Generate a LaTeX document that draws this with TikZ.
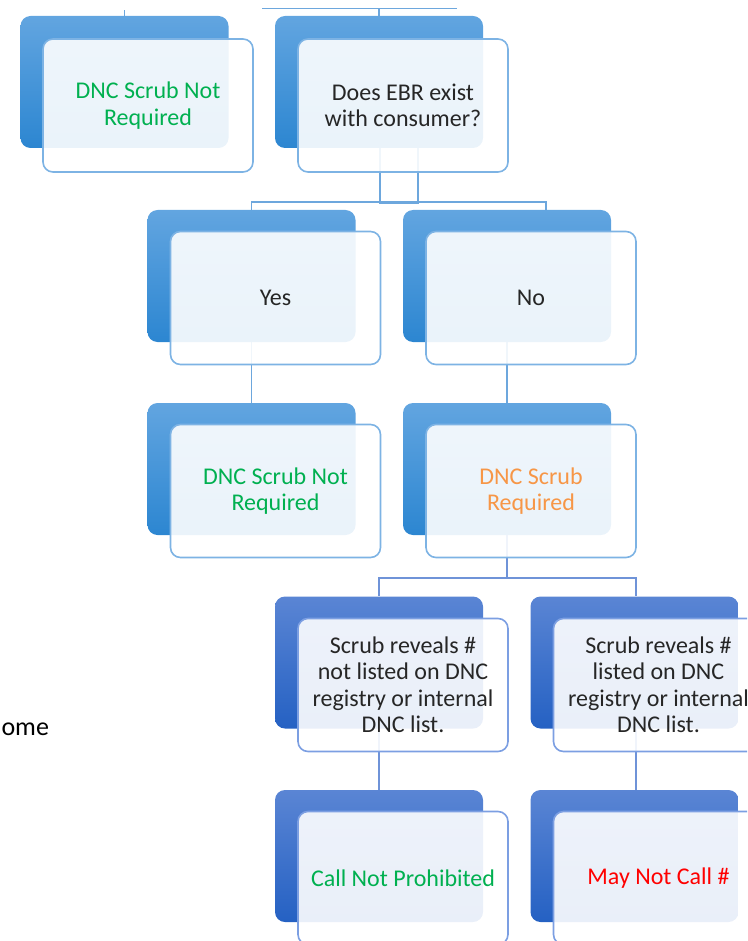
\documentclass[tikz,border=0pt]{standalone}
\usepackage{fontspec}
\setmainfont{Carlito}
\usepackage{xcolor}
\usepackage{tikz}
\usetikzlibrary{positioning,backgrounds}

\definecolor{topA}{HTML}{62A5E0}
\definecolor{botA}{HTML}{2C86D1}
\definecolor{topB}{HTML}{5A85D4}
\definecolor{botB}{HTML}{2561C3}
\definecolor{edgeA}{HTML}{7DB3E4}
\definecolor{edgeB}{HTML}{7C9FE2}
\definecolor{lineA}{HTML}{6DA7DD}
\definecolor{lineB}{HTML}{6F93D8}
\definecolor{txtgray}{HTML}{262626}
\definecolor{okgreen}{HTML}{00B050}
\definecolor{warnorange}{HTML}{F79646}
\definecolor{stopred}{HTML}{FF0000}

\begin{document}
\begin{tikzpicture}[
  x=1pt, y=-1pt,
  font=\fontsize{24}{26.5}\selectfont,
  back/.style={rounded corners=10pt, minimum width=208pt, minimum height=132pt, inner sep=0pt, top color=topA, bottom color=botA},
  backdk/.style={back, top color=topB, bottom color=botB},
  front/.style={draw=edgeA, line width=1.6pt, rounded corners=10pt, fill=white, fill opacity=0.9, text opacity=1, align=center, minimum width=210pt, minimum height=133pt, inner sep=2pt, text=txtgray},
  frontdk/.style={front, draw=edgeB},
  link/.style={draw=lineA, line width=1.8pt},
  linkdk/.style={draw=lineB, line width=1.8pt}
]
\clip (0,0) rectangle (747,941);

\node[back] (b1) at (124.5,82) {};
\node[front,text=okgreen] (n1) at (148,105.5) {DNC Scrub Not\\Required};
\node[back] (b2) at (379,82) {};
\node[front] (n2) at (403,105.5) {Does EBR exist\\with consumer?};

\node[back] (b3) at (251.5,276) {};
\node[front] (n3) at (275.5,298) {Yes};
\node[back] (b4) at (507,276) {};
\node[front] (n4) at (531,298) {No};

\node[back] (b5) at (251.5,469) {};
\node[front,text=okgreen] (n5) at (275.5,491) {DNC Scrub Not\\Required};
\node[back] (b6) at (507,469) {};
\node[front,text=warnorange] (n6) at (531,491) {DNC Scrub\\Required};

\node[backdk] (b7) at (379,662.5) {};
\node[frontdk] (n7) at (403,685) {Scrub reveals \#\\not listed on DNC\\registry or internal\\DNC list.};
\node[backdk] (b8) at (634.5,662.5) {};
\node[frontdk] (n8) at (658.5,685) {Scrub reveals \#\\listed on DNC\\registry or internal\\DNC list.};

\node[backdk] (b9) at (379,856) {};
\node[frontdk,text=okgreen] (n9) at (403,878) {Call Not Prohibited};
\node[backdk] (b10) at (634.5,856) {};
\node[frontdk,text=stopred] (n10) at (658.5,878) {May Not Call \#};

\node[anchor=base west, font=\fontsize{26}{30}\selectfont, text=black] (lbl) at (-2,735) {ome};

\coordinate (tl) at (262,8.5);
\coordinate (tr) at (457,8.5);

\begin{scope}[on background layer]
\draw[link] (tl) -- (tr);
\draw[link] (b2.north) -- (b2.north |- tr);
\draw[link] (b1.north) -- ++(0,-6);
\draw[link] ([xshift=1pt]b2.south) -- ++(0,55) -| ([xshift=39pt]b2.south);
\draw[link] (b3.north) -- ++(0,-7.5) -| ([xshift=39pt]b4.north);
\draw[link] (b3.south) -- (b5.north);
\draw[link] (b4.south) -- (b6.north);
\draw[linkdk] (b6.south) -- ++(0,43) -| (b7.north);
\draw[linkdk] (b6.south) -- ++(0,43) -| ([xshift=1.5pt]b8.north);
\draw[linkdk] (b7.south) -- (b9.north);
\draw[linkdk] ([xshift=1.5pt]b8.south) -- ([xshift=1.5pt]b10.north);
\end{scope}
\end{tikzpicture}
\end{document}
